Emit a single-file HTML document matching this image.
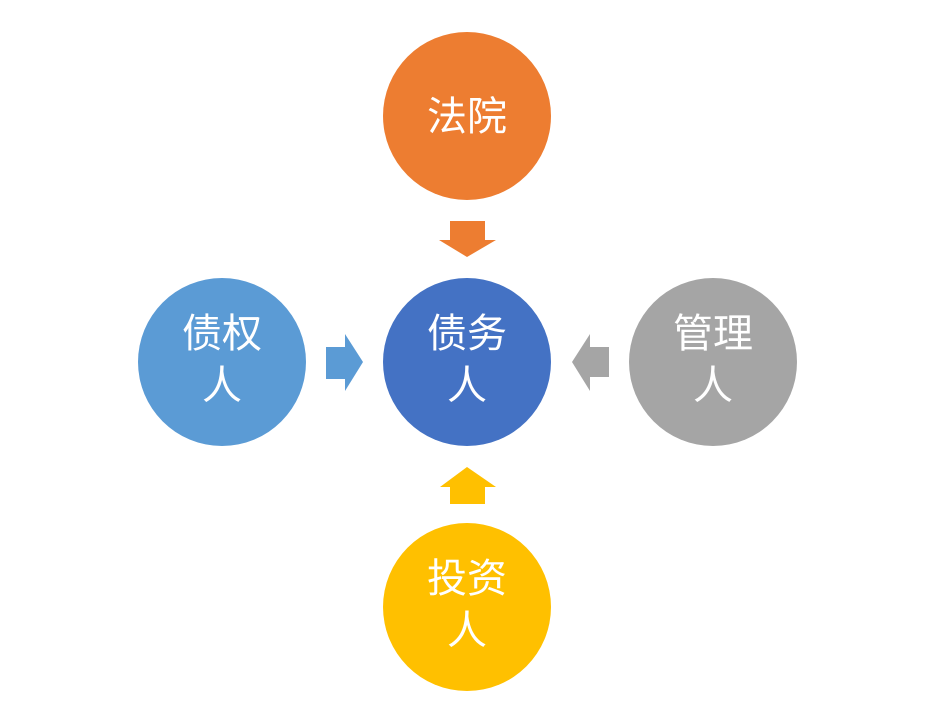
<!DOCTYPE html>
<html><head><meta charset="utf-8"><style>
html,body{margin:0;padding:0;background:#fff;}
svg{display:block;}
text{font-family:"Liberation Sans","Noto Sans CJK SC",sans-serif;font-size:40px;fill:#fff;text-anchor:middle;}
</style></head><body>
<svg width="947" height="716" viewBox="0 0 947 716" xmlns="http://www.w3.org/2000/svg">
<rect width="947" height="716" fill="#fff"/>
<circle cx="467" cy="116" r="84" fill="#ED7D31"/>
<circle cx="467" cy="362" r="84" fill="#4472C4"/>
<circle cx="222" cy="362" r="84" fill="#5B9BD5"/>
<circle cx="713" cy="362" r="84" fill="#A5A5A5"/>
<circle cx="467" cy="607" r="84" fill="#FFC000"/>
<polygon points="450,221 485,221 485,240 496,240 467,257 439,240 450,240" fill="#ED7D31"/>
<polygon points="326,347 345,347 345,334 363,362 345,391 345,379 326,379" fill="#5B9BD5"/>
<polygon points="609,347 590,347 590,334 572,362 590,391 590,377 609,377" fill="#A5A5A5"/>
<polygon points="450,504 485,504 485,487 496,487 467,467 440,487 450,487" fill="#FFC000"/>
<text x="467" y="130">法院</text>
<text x="467" y="347">债务</text><text x="467" y="399">人</text>
<text x="222" y="347">债权</text><text x="222" y="399">人</text>
<text x="713" y="347">管理</text><text x="713" y="399">人</text>
<text x="467" y="592">投资</text><text x="467" y="644">人</text>
</svg>
</body></html>
